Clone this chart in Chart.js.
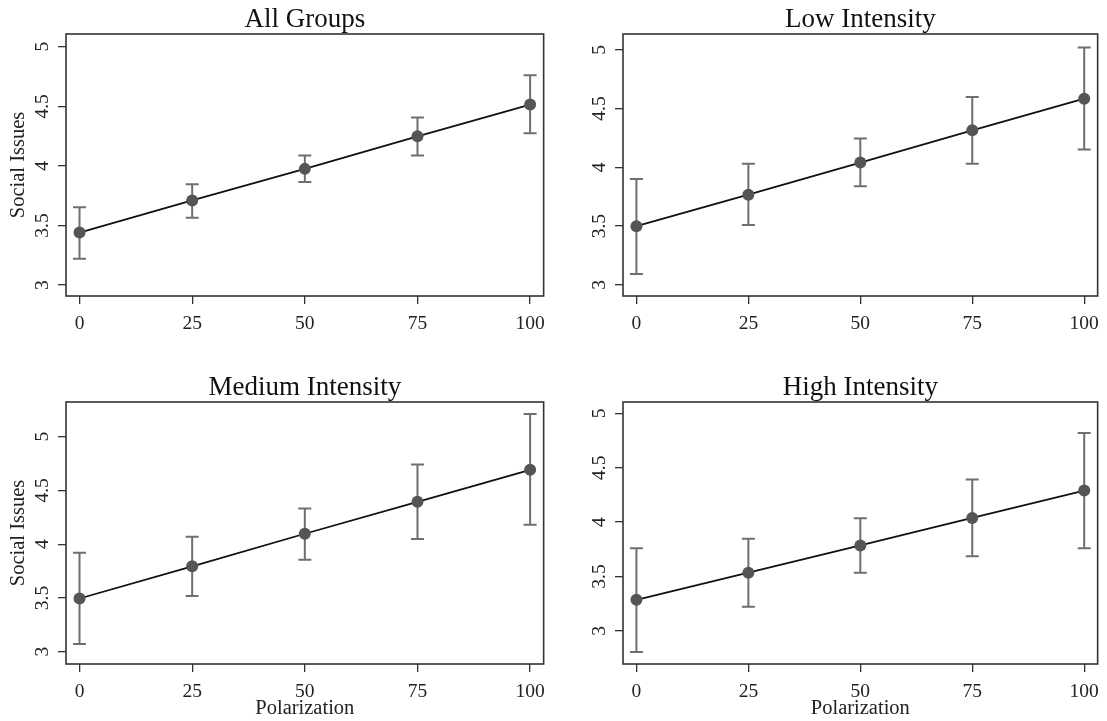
<!DOCTYPE html>
<html>
<head>
<meta charset="utf-8">
<script src="https://cdn.jsdelivr.net/npm/chart.js@4.4.1/dist/chart.umd.min.js"></script>
<style>
  html, body { margin: 0; padding: 0; background: #fff; }
  #wrap { position: relative; width: 1107px; height: 721px; overflow: hidden; }
  canvas { position: absolute; }
</style>
</head>
<body>
<div id="wrap">
  <canvas id="p1" width="553" height="340" style="left:0;top:0"></canvas>
  <canvas id="p2" width="554" height="340" style="left:553px;top:0"></canvas>
  <canvas id="p3" width="553" height="361" style="left:0;top:360px"></canvas>
  <canvas id="p4" width="554" height="361" style="left:553px;top:360px"></canvas>
</div>
<script>
// polarization levels and tick labels
const xValues = [0, 25, 50, 75, 100];
const yTicks = [3, 3.5, 4, 4.5, 5];

const titles = ['All Groups', 'Low Intensity', 'Medium Intensity', 'High Intensity'];

// predicted social issues with 95% CI
const allMean = [3.44, 3.71, 3.975, 4.248, 4.515];
const allLow  = [3.22, 3.565, 3.865, 4.087, 4.275];
const allHigh = [3.652, 3.846, 4.088, 4.407, 4.76];

const lowMean = [3.50, 3.768, 4.041, 4.315, 4.584];
const lowLow  = [3.093, 3.509, 3.84, 4.03, 4.151];
const lowHigh = [3.90, 4.03, 4.245, 4.598, 5.02];

const medMean = [3.495, 3.794, 4.097, 4.394, 4.691];
const medLow  = [3.071, 3.519, 3.856, 4.048, 4.181];
const medHigh = [3.921, 4.07, 4.332, 4.74, 5.21];

const highMean = [3.286, 3.535, 3.786, 4.038, 4.29];
const highLow  = [2.806, 3.221, 3.535, 3.685, 3.759];
const highHigh = [3.759, 3.848, 4.035, 4.392, 4.819];

const FONT = '"Liberation Serif", "Times New Roman", serif';
const INK = '#222';

// error bars, drawn under the line and markers
const errorBars = {
    id: 'errorBars',
    beforeDatasetsDraw(chart) {
        const { ctx, scales: { x, y } } = chart;
        const ci = chart.config.options.ci;
        ctx.save();
        ctx.strokeStyle = '#6f6f6f';
        ctx.lineWidth = 2;
        xValues.forEach((v, i) => {
            const px = x.getPixelForValue(v);
            const top = y.getPixelForValue(ci.high[i]);
            const bot = y.getPixelForValue(ci.low[i]);
            ctx.beginPath();
            ctx.moveTo(px, top); ctx.lineTo(px, bot);
            ctx.moveTo(px - 6.5, top); ctx.lineTo(px + 6.5, top);
            ctx.moveTo(px - 6.5, bot); ctx.lineTo(px + 6.5, bot);
            ctx.stroke();
        });
        ctx.restore();
    }
};

// frame, title and rotated y tick labels
const frame = {
    id: 'frame',
    afterDraw(chart) {
        const { ctx, chartArea: a, scales: { y } } = chart;
        ctx.save();
        ctx.strokeStyle = '#333';
        ctx.lineWidth = 1.6;
        ctx.strokeRect(a.left, a.top, a.right - a.left, a.bottom - a.top);

        ctx.fillStyle = '#111';
        ctx.font = '27px ' + FONT;
        ctx.textAlign = 'center';
        ctx.textBaseline = 'alphabetic';
        ctx.fillText(chart.config.options.panelTitle, (a.left + a.right) / 2, a.top - 7);

        ctx.fillStyle = INK;
        ctx.font = '19.5px ' + FONT;
        yTicks.forEach(t => {
            ctx.save();
            ctx.translate(a.left - 23, y.getPixelForValue(t));
            ctx.rotate(-Math.PI / 2);
            ctx.textAlign = 'center';
            ctx.textBaseline = 'middle';
            ctx.fillText(String(t), 0, 0);
            ctx.restore();
        });
        ctx.restore();
    }
};

function panel(id, title, mean, low, high, yMin, yMax, box, showYTitle, showXTitle) {
    const canvas = document.getElementById(id);
    new Chart(canvas, {
        type: 'line',
        data: {
            datasets: [{
                data: xValues.map((v, i) => ({ x: v, y: mean[i] })),
                borderColor: '#111',
                borderWidth: 1.8,
                pointRadius: 6,
                pointBackgroundColor: '#555',
                pointBorderColor: '#555',
                pointBorderWidth: 0,
                tension: 0
            }]
        },
        options: {
            responsive: false,
            animation: false,
            devicePixelRatio: 1,
            panelTitle: title,
            ci: { low, high },
            layout: { padding: { top: box.top, right: canvas.width - box.right, left: 0, bottom: 0 } },
            plugins: { legend: { display: false }, tooltip: { enabled: false } },
            scales: {
                x: {
                    type: 'linear', min: -3, max: 103,
                    afterBuildTicks: s => { s.ticks = xValues.map(v => ({ value: v })); },
                    afterFit: s => { s.height = canvas.height - box.bottom; },
                    grid: { drawOnChartArea: false, drawTicks: true, tickLength: 8, color: '#333', lineWidth: 1.3 },
                    border: { display: false },
                    ticks: { color: INK, font: { family: FONT, size: 19.5 }, padding: 8, maxRotation: 0 },
                    title: { display: showXTitle, text: 'Polarization', color: INK, font: { family: FONT, size: 20.5 }, padding: 0 }
                },
                y: {
                    min: yMin, max: yMax,
                    afterBuildTicks: s => { s.ticks = yTicks.map(v => ({ value: v })); },
                    afterFit: s => { s.width = box.left; },
                    grid: { drawOnChartArea: false, drawTicks: true, tickLength: 8, color: '#333', lineWidth: 1.3 },
                    border: { display: false },
                    ticks: { display: false },
                    title: { display: showYTitle, text: 'Social Issues', color: INK, font: { family: FONT, size: 20.5 }, padding: { top: 6, bottom: 0 } }
                }
            }
        },
        plugins: [errorBars, frame]
    });
}

panel('p1', titles[0], allMean, allLow, allHigh, 2.908, 5.107, { left: 66, right: 544, top: 34, bottom: 296 }, true, false);
panel('p2', titles[1], lowMean, lowLow, lowHigh, 2.906, 5.134, { left: 70, right: 549, top: 34, bottom: 296 }, false, false);
panel('p3', titles[2], medMean, medLow, medHigh, 2.886, 5.322, { left: 66, right: 544, top: 42, bottom: 304 }, true, true);
panel('p4', titles[3], highMean, highLow, highHigh, 2.695, 5.105, { left: 70, right: 549, top: 42, bottom: 304 }, false, true);
</script>
</body>
</html>
